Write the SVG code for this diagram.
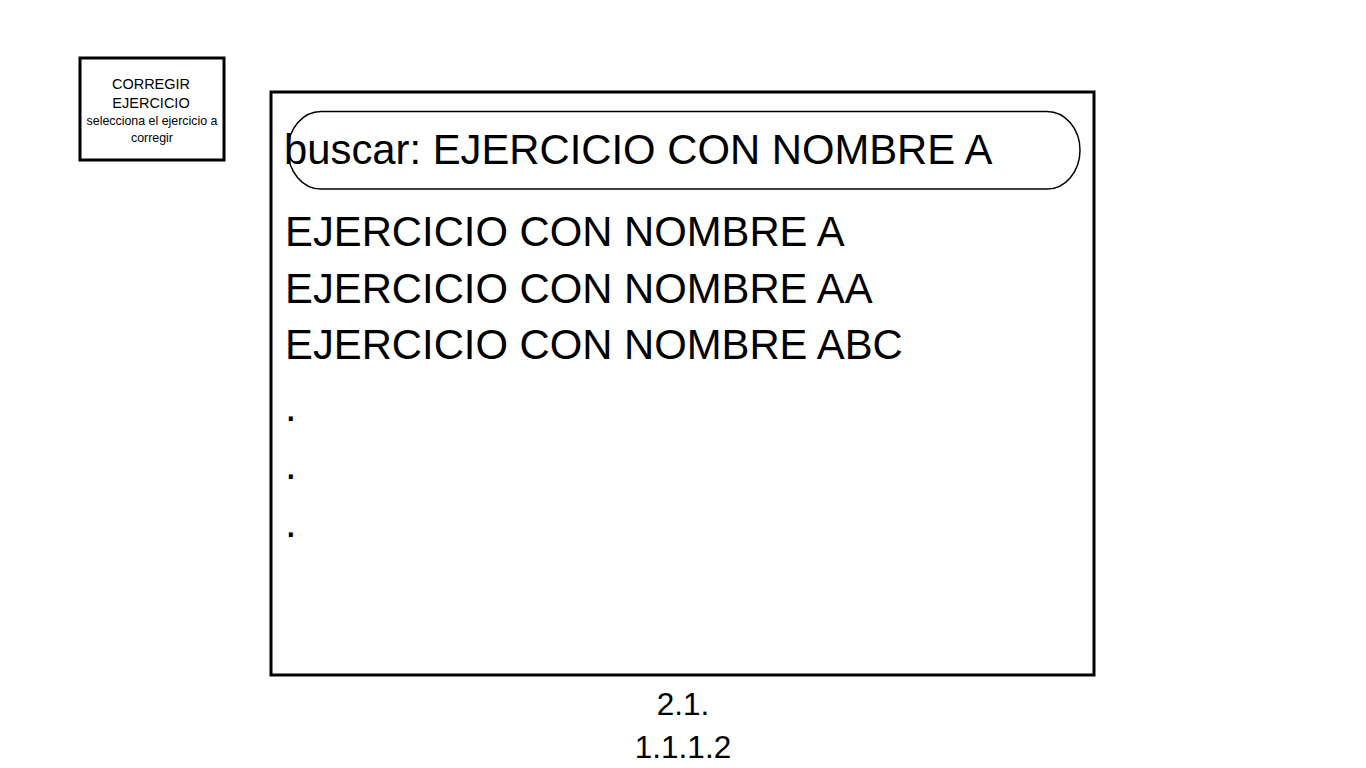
<svg xmlns="http://www.w3.org/2000/svg" width="1366" height="768" viewBox="0 0 1366 768">
  <style>
    .t { font-family: "Liberation Sans", Arial, sans-serif; fill: #000; }
    .big { font-size: 41.8px; }
    .box { fill: #fff; stroke: #000; stroke-width: 3; }
  </style>
  <rect width="1366" height="768" fill="#fff"/>
  <g id="note">
    <rect class="box" x="80" y="58" width="144" height="102"/>
    <text class="t" x="151" y="89" font-size="14.5" text-anchor="middle">CORREGIR</text>
    <text class="t" x="151" y="108" font-size="14.5" text-anchor="middle">EJERCICIO</text>
    <text class="t" x="152" y="125" font-size="12.4" text-anchor="middle">selecciona el ejercicio a</text>
    <text class="t" x="152" y="142" font-size="12.4" text-anchor="middle">corregir</text>
  </g>
  <g id="screen">
    <rect class="box" x="271" y="92" width="823" height="583"/>
  </g>
  <g id="search">
    <rect x="288" y="111.5" width="792" height="77.5" rx="33" ry="38.75" fill="#fff" stroke="#000" stroke-width="1.5"/>
    <text class="t big" x="284" y="164">buscar: EJERCICIO CON NOMBRE A</text>
  </g>
  <g id="list">
    <text class="t big" x="285" y="246">EJERCICIO CON NOMBRE A</text>
    <text class="t big" x="285" y="303">EJERCICIO CON NOMBRE AA</text>
    <text class="t big" x="285" y="359">EJERCICIO CON NOMBRE ABC</text>
    <text class="t big" x="285" y="421">.</text>
    <text class="t big" x="285" y="479">.</text>
    <text class="t big" x="285" y="537">.</text>
  </g>
  <g id="label">
    <text class="t" x="683" y="715" font-size="31.5" text-anchor="middle">2.1.</text>
    <text class="t" x="683" y="758" font-size="31.5" text-anchor="middle">1.1.1.2</text>
  </g>
  <g id="connectors"/>
</svg>
